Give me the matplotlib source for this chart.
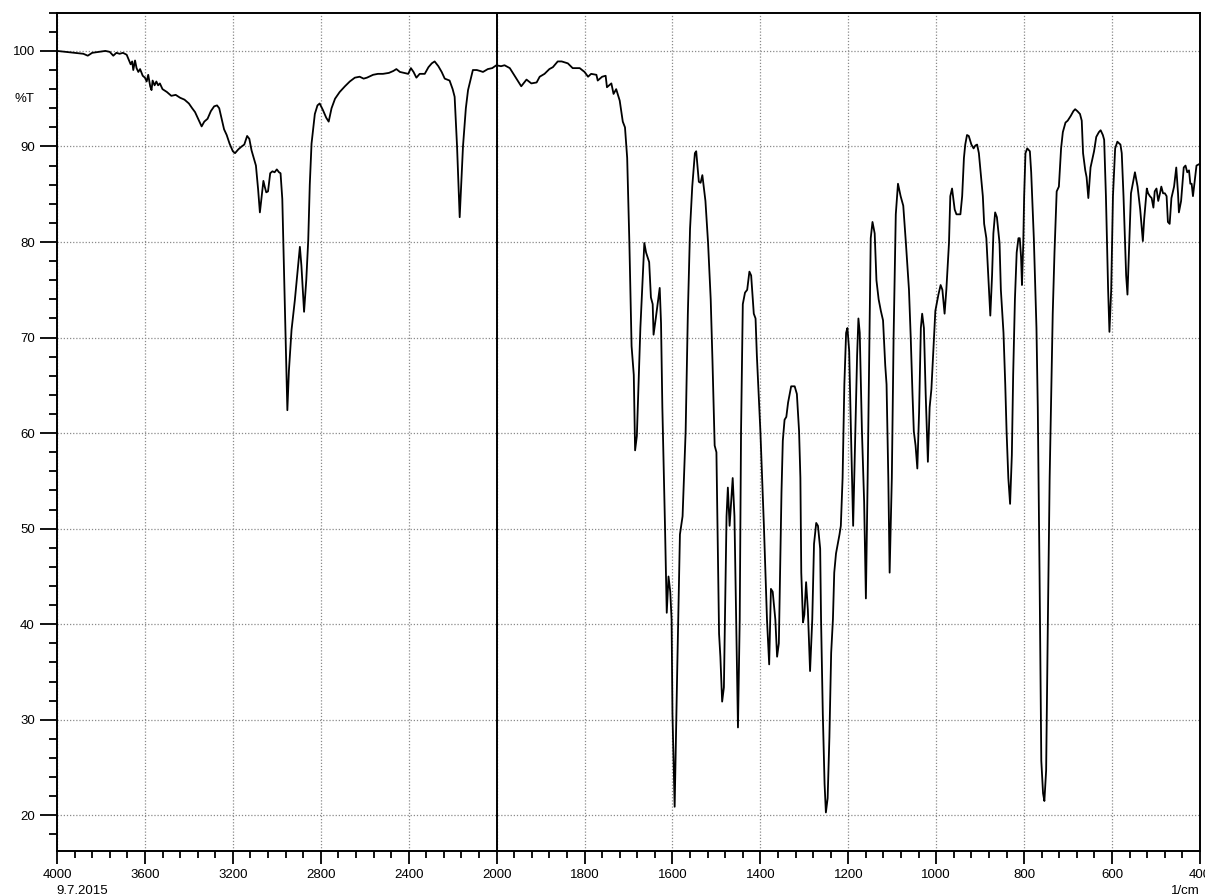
import numpy as np
import matplotlib
matplotlib.use("Agg")
import matplotlib.pyplot as plt
from matplotlib.ticker import FixedLocator, MultipleLocator, NullFormatter

plt.rcParams['font.family'] = ['Liberation Sans', 'DejaVu Sans']

# spectrum, 4000-2000 1/cm part
wn_left = [4000, 3960, 3920, 3880, 3860, 3840, 3810, 3780, 3760, 3744, 3730, 3715, 3700, 3683,
           3665, 3658, 3653, 3645, 3638, 3630, 3622, 3610, 3600, 3592, 3585, 3576, 3570, 3565,
           3556, 3548, 3540, 3532, 3520, 3500, 3480, 3460, 3440, 3420, 3400, 3385, 3372, 3360,
           3342, 3330, 3315, 3300, 3285, 3272, 3262, 3250, 3240, 3228, 3215, 3200, 3190, 3175,
           3160, 3148, 3135, 3125, 3115, 3105, 3095, 3085, 3077, 3068, 3061, 3055, 3048, 3040,
           3030, 3020, 3010, 3000, 2990, 2983, 2975, 2968, 2960, 2952, 2945, 2933, 2918, 2905,
           2895, 2888, 2876, 2866, 2857, 2850, 2842, 2827, 2815, 2805, 2790, 2775, 2764, 2751,
           2735, 2714, 2690, 2668, 2645, 2623, 2605, 2590, 2562, 2540, 2517, 2490, 2470, 2456,
           2440, 2420, 2402, 2390, 2378, 2365, 2350, 2327, 2310, 2295, 2282, 2265, 2250, 2236,
           2214, 2200, 2191, 2180, 2168, 2160, 2153, 2140, 2130, 2108, 2090, 2075, 2062, 2040,
           2020, 2001]
t_left = [100.0, 99.9, 99.8, 99.7, 99.5, 99.8, 99.9, 100.0, 99.9, 99.5, 99.8, 99.7, 99.8, 99.6,
          98.6, 98.9, 98.0, 99.0, 98.2, 97.8, 98.1, 97.4, 97.2, 96.8, 97.5, 96.3, 95.9, 96.9,
          96.4, 96.8, 96.4, 96.6, 96.0, 95.7, 95.3, 95.4, 95.1, 94.9, 94.5, 94.0, 93.6, 93.0,
          92.1, 92.6, 92.9, 93.7, 94.2, 94.3, 94.0, 92.8, 91.8, 91.2, 90.3, 89.5, 89.3, 89.7,
          90.0, 90.2, 91.1, 90.8, 89.6, 88.8, 88.0, 85.5, 83.1, 85.0, 86.4, 85.8, 85.2, 85.3,
          87.2, 87.4, 87.3, 87.6, 87.3, 87.2, 84.5, 77.5, 70.0, 62.4, 66.5, 70.8, 73.9, 77.0,
          79.5, 77.5, 72.7, 76.0, 80.2, 86.0, 90.3, 93.4, 94.3, 94.5, 93.8, 93.0, 92.6, 94.0,
          95.0, 95.7, 96.3, 96.8, 97.2, 97.3, 97.1, 97.2, 97.5, 97.6, 97.6, 97.7, 97.9, 98.1,
          97.8, 97.7, 97.6, 98.2, 97.8, 97.2, 97.6, 97.6, 98.3, 98.7, 98.9, 98.4, 97.8, 97.1,
          96.9, 96.0, 95.2, 90.0, 82.6, 86.5, 90.0, 94.0, 95.9, 98.0, 98.0, 97.9, 97.8, 98.1,
          98.2, 98.5]

# 2000-400 1/cm part
wn_right = [1990, 1982, 1970, 1955, 1944, 1932, 1921, 1909, 1902, 1891, 1880, 1872, 1861, 1852,
            1838, 1827, 1811, 1800, 1792, 1785, 1773, 1770, 1760, 1752, 1749, 1739, 1734, 1728,
            1720, 1713, 1708, 1703, 1698, 1693, 1688, 1685, 1681, 1673, 1664, 1660, 1653, 1649,
            1645, 1643, 1638, 1629, 1626, 1623, 1617, 1613, 1609, 1605, 1602, 1600, 1595, 1589,
            1583, 1577, 1570, 1565, 1560, 1555, 1549, 1546, 1540, 1536, 1532, 1525, 1519, 1513,
            1509, 1504, 1500, 1498, 1494, 1491, 1487, 1483, 1477, 1474, 1470, 1463, 1459, 1455,
            1451, 1447, 1444, 1440, 1435, 1430, 1425, 1421, 1415, 1411, 1408, 1400, 1392, 1385,
            1380, 1376, 1372, 1366, 1362, 1358, 1352, 1349, 1345, 1341, 1337, 1330, 1322, 1317,
            1312, 1309, 1307, 1303, 1300, 1296, 1292, 1287, 1282, 1278, 1273, 1269, 1264, 1262,
            1258, 1254, 1251, 1247, 1243, 1239, 1235, 1232, 1228, 1220, 1217, 1213, 1209, 1205,
            1202, 1198, 1194, 1189, 1184, 1180, 1177, 1174, 1169, 1164, 1160, 1156, 1152, 1149,
            1145, 1140, 1136, 1131, 1126, 1121, 1116, 1113, 1109, 1106, 1101, 1097, 1092, 1087,
            1081, 1075, 1069, 1062, 1058, 1054, 1051, 1047, 1043, 1039, 1035, 1032, 1028, 1024,
            1019, 1015, 1011, 1005, 1002, 995, 990, 986, 981, 977, 971, 968, 964, 958,
            954, 949, 945, 941, 937, 934, 930, 926, 920, 915, 911, 907, 903, 894,
            891, 886, 881, 877, 873, 870, 866, 862, 856, 853, 847, 843, 840, 836,
            832, 828, 825, 821, 817, 813, 810, 807, 805, 802, 800, 797, 793, 787,
            784, 778, 772, 769, 765, 761, 757, 754, 750, 746, 742, 739, 735, 731,
            726, 721, 716, 712, 706, 701, 694, 688, 684, 679, 673, 669, 666, 661,
            658, 654, 649, 641, 636, 630, 626, 621, 618, 614, 609, 606, 602, 598,
            593, 588, 581, 578, 574, 568, 565, 561, 557, 553, 548, 542, 536, 530,
            527, 521, 518, 514, 510, 506, 503, 499, 495, 491, 488, 484, 480, 476,
            473, 469, 465, 459, 454, 450, 448, 443, 437, 433, 429, 425, 422, 419,
            416, 411, 408, 400]
t_right = [98.4, 98.5, 98.2, 97.1, 96.3, 97.0, 96.6, 96.7, 97.3, 97.6, 98.1, 98.3, 98.9, 98.9,
           98.7, 98.2, 98.2, 97.8, 97.3, 97.6, 97.5, 96.9, 97.3, 97.4, 96.2, 96.6, 95.5, 96.0,
           94.8, 92.6, 92.0, 88.8, 79.9, 69.1, 66.1, 58.2, 59.7, 71.0, 79.9, 78.9, 77.9, 74.2,
           73.5, 70.3, 72.0, 75.2, 71.5, 62.7, 50.3, 41.2, 45.0, 43.4, 40.5, 30.6, 20.9, 35.6,
           49.4, 51.3, 60.2, 72.5, 81.4, 85.8, 89.3, 89.5, 86.3, 86.2, 87.0, 84.3, 79.9, 74.0,
           67.6, 58.7, 58.0, 51.8, 39.0, 36.6, 31.9, 33.4, 51.3, 54.3, 50.3, 55.3, 51.3, 40.5,
           29.2, 40.5, 60.2, 73.5, 74.7, 75.0, 76.9, 76.5, 72.5, 72.0, 68.1, 60.2, 50.3, 40.5,
           35.8, 43.7, 43.4, 40.5, 36.6, 38.0, 53.8, 59.2, 61.4, 61.7, 63.2, 64.9, 64.9, 64.1,
           60.2, 55.3, 45.4, 40.2, 41.0, 44.4, 41.5, 35.1, 40.5, 48.4, 50.6, 50.3, 47.9, 40.5,
           30.6, 23.3, 20.3, 21.8, 28.2, 37.0, 40.5, 45.4, 47.4, 49.4, 50.3, 55.3, 65.1, 70.5,
           71.0, 68.6, 60.2, 50.3, 60.2, 68.1, 72.0, 70.5, 60.2, 52.8, 42.7, 55.3, 70.0, 80.4,
           82.1, 80.9, 76.0, 74.0, 72.8, 71.8, 67.1, 65.1, 55.3, 45.4, 55.3, 70.0, 82.9, 86.1,
           84.8, 83.8, 79.9, 75.0, 70.0, 64.1, 60.2, 58.7, 56.3, 62.2, 71.0, 72.5, 71.0, 64.1,
           57.0, 62.7, 64.6, 70.0, 72.8, 74.5, 75.5, 75.0, 72.5, 75.0, 79.9, 84.8, 85.6, 83.4,
           82.9, 82.9, 82.9, 84.8, 88.8, 90.2, 91.2, 91.1, 90.2, 89.8, 90.1, 90.2, 89.3, 84.8,
           81.9, 80.4, 76.0, 72.3, 76.5, 80.9, 83.1, 82.6, 79.9, 75.0, 70.5, 65.1, 60.2, 55.3,
           52.6, 57.7, 66.1, 74.0, 78.9, 80.4, 80.4, 78.4, 75.5, 79.9, 84.8, 89.3, 89.8, 89.5,
           87.3, 80.4, 71.0, 62.7, 45.4, 25.7, 22.3, 21.5, 24.7, 40.5, 55.3, 62.7, 72.5, 78.9,
           85.3, 85.8, 89.8, 91.5, 92.5, 92.7, 93.2, 93.7, 93.9, 93.7, 93.4, 92.7, 89.3, 87.5,
           86.8, 84.6, 87.8, 89.5, 91.0, 91.5, 91.7, 91.2, 90.7, 84.8, 75.0, 70.6, 75.0, 84.8,
           89.8, 90.5, 90.2, 89.3, 84.8, 76.5, 74.5, 79.9, 85.1, 86.1, 87.3, 85.8, 83.4, 80.1,
           82.4, 85.6, 85.1, 84.8, 84.6, 83.6, 85.3, 85.6, 84.3, 85.1, 85.8, 85.1, 85.1, 84.8,
           82.1, 81.9, 84.6, 85.8, 87.8, 85.1, 83.1, 84.3, 87.8, 88.0, 87.3, 87.5, 86.1, 86.1,
           84.8, 86.8, 88.0, 88.2]

major_x = [4000, 3600, 3200, 2800, 2400, 2000, 1800, 1600, 1400, 1200, 1000, 800, 600, 400]
major_y = [20, 30, 40, 50, 60, 70, 80, 90, 100]

wn = np.array(wn_left + wn_right, dtype=float)
trans = np.array(t_left + t_right, dtype=float)


# the spectrometer scale: 400 1/cm per division above 2000, 200 below
def forward(x):
    x = np.asarray(x, dtype=float)
    return np.where(x >= 2000, 5 + (x - 2000) / 400.0, 5 + (x - 2000) / 200.0)


def inverse(p):
    p = np.asarray(p, dtype=float)
    return np.where(p >= 5, 2000 + (p - 5) * 400.0, 2000 + (p - 5) * 200.0)


fig = plt.figure(figsize=(12.05, 8.96), dpi=100)
ax = fig.add_axes([57 / 1205, 45.3 / 896, 1143 / 1205, 838 / 896])
ax.set_xscale('function', functions=(forward, inverse))
ax.set_xlim(4000, 400)
ax.set_ylim(16.3, 104)

ax.plot(wn, trans, color='black', lw=1.3, zorder=3)
ax.axvline(2000, color='black', lw=1.4, zorder=2)

minor_x = [v for v in range(4000, 2000, -80) if v not in major_x] + \
          [v for v in range(2000, 399, -40) if v not in major_x]
ax.xaxis.set_major_locator(FixedLocator(major_x))
ax.xaxis.set_minor_locator(FixedLocator(minor_x))
ax.xaxis.set_minor_formatter(NullFormatter())
ax.set_xticklabels([str(v) for v in major_x])
ax.yaxis.set_major_locator(FixedLocator(major_y))
ax.yaxis.set_minor_locator(MultipleLocator(2))

ax.grid(True, which='major', color='#8a8a8a', linestyle=(0, (1, 1.5)), lw=0.9)
ax.tick_params(axis='x', which='major', direction='out', length=9, width=1.3, labelsize=9.5, pad=4)
ax.tick_params(axis='x', which='minor', direction='out', length=4.8, width=1.3)
ax.tick_params(axis='y', which='major', direction='out', length=12, width=1.3, labelsize=9.5, pad=4)
ax.tick_params(axis='y', which='minor', direction='out', length=5.8, width=1.3)
for sp in ax.spines.values():
    sp.set_linewidth(1.4)

# %T sits in the tick label column, same offset as the numbers
ax.text(-0.0194, 95, '%T', transform=ax.get_yaxis_transform(),
        ha='right', va='center', fontsize=9.5)
fig.text(56 / 1205, 1 - 891 / 896, '9.7.2015', ha='left', va='center', fontsize=9.5)
fig.text(1200 / 1205, 1 - 891 / 896, '1/cm', ha='right', va='center', fontsize=9.5)

fig.savefig('out.png', dpi=100)
